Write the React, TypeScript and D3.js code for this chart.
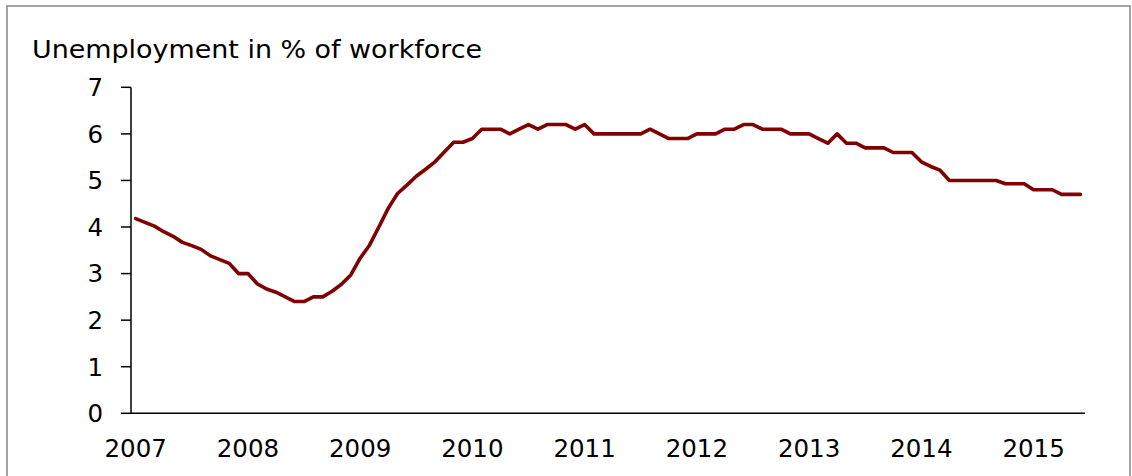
import React from "react";
import * as d3 from "d3";

// Monthly unemployment rate, Jan 2007 – Jun 2015 (% of workforce)
const unemployment: number[] = [
  4.18, 4.1, 4.02, 3.9, 3.8, 3.67, 3.6, 3.52, 3.38, 3.3, 3.22, 3.0, // 2007
  3.0, 2.78, 2.67, 2.6, 2.5, 2.4, 2.4, 2.5, 2.5, 2.62, 2.77, 2.97,  // 2008
  3.33, 3.61, 4.0, 4.4, 4.72, 4.9, 5.09, 5.24, 5.4, 5.61, 5.82, 5.82, // 2009
  5.9, 6.1, 6.1, 6.1, 6.0, 6.1, 6.2, 6.1, 6.2, 6.2, 6.2, 6.1, // 2010
  6.2, 6.0, 6.0, 6.0, 6.0, 6.0, 6.0, 6.1, 6.0, 5.9, 5.9, 5.9, // 2011
  6.0, 6.0, 6.0, 6.1, 6.1, 6.2, 6.2, 6.1, 6.1, 6.1, 6.0, 6.0, // 2012
  6.0, 5.9, 5.8, 6.0, 5.8, 5.8, 5.7, 5.7, 5.7, 5.6, 5.6, 5.6, // 2013
  5.4, 5.3, 5.22, 5.0, 5.0, 5.0, 5.0, 5.0, 5.0, 4.93, 4.93, 4.93, // 2014
  4.8, 4.8, 4.8, 4.7, 4.7, 4.7,                               // 2015
];
const years: string[] = ["2007", "2008", "2009", "2010", "2011", "2012", "2013", "2014", "2015"];
const yTicks: number[] = [0, 1, 2, 3, 4, 5, 6, 7];
const title = "Unemployment in % of workforce";

const W = 1132;
const H = 476;
const FONT = "'DejaVu Sans', Verdana, sans-serif";

export default function App() {
  const idx = unemployment.map((_, i) => i);
  const x = d3.scalePoint<number>().domain(idx).range([131, 1085]).padding(0.5);
  const y = d3.scaleLinear().domain([0, 7]).range([413.3, 87.3]);
  const line = d3
    .line<number>()
    .x((_, i) => x(i) as number)
    .y((d) => y(d));

  return (
    <svg
      width={W}
      height={H}
      style={{ position: "absolute", left: 0, top: 0, background: "#fff" }}
      fontFamily={FONT}
    >
      <rect x={7} y={6} width={1123} height={H + 20} fill="#fff" stroke="#8c8c8c" strokeWidth={1.6} />
      <text x={32} y={58} fontSize={25.5} fill="#000" textLength={450} lengthAdjust="spacingAndGlyphs">
        {title}
      </text>
      {/* y axis */}
      <line x1={131} x2={131} y1={y(7)} y2={y(0)} stroke="#000" strokeWidth={1.5} />
      {yTicks.map((t) => (
        <g key={t}>
          <line x1={121} x2={131} y1={y(t)} y2={y(t)} stroke="#000" strokeWidth={1.5} />
          <text x={103} y={y(t)} dy="0.36em" textAnchor="end" fontSize={24.5} fill="#000">
            {t}
          </text>
        </g>
      ))}
      {/* x axis */}
      <line x1={131} x2={1085} y1={y(0)} y2={y(0)} stroke="#000" strokeWidth={1.5} />
      {years.map((yr, k) => (
        <text key={yr} x={x(k * 12) as number} y={457} textAnchor="middle" fontSize={24.5} fill="#000">
          {yr}
        </text>
      ))}
      <path d={line(unemployment) || ""} fill="none" stroke="#800000" strokeWidth={3.6} strokeLinejoin="round" strokeLinecap="round" />
    </svg>
  );
}
